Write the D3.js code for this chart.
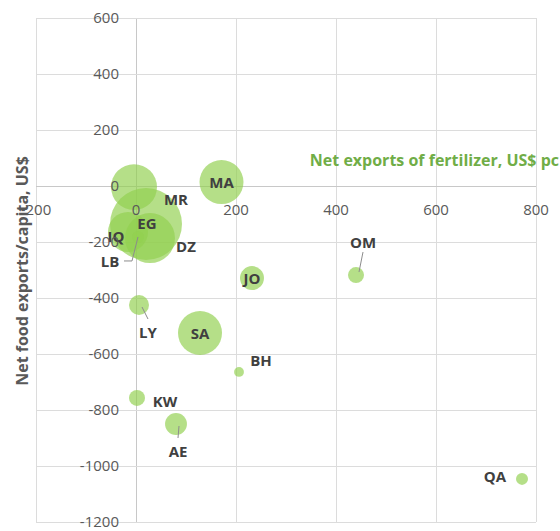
<!DOCTYPE html>
<html>
  <head>
    <meta charset="utf-8">
    <style type="text/css">
      body { margin: 0; background: #fff; }
      text { font-family: "Open Sans", sans-serif; }
    </style>
  </head>
  <body>
    <div id="chart"></div>
    <script src="https://cdn.jsdelivr.net/npm/d3@7"></script>
    <script>
      // country codes, net fertilizer exports (US$ pc), net food exports (US$/capita), bubble size
      const countries = ["MR", "EG", "DZ", "IQ", "LB", "MA", "SA", "JO", "LY", "OM", "BH", "KW", "AE", "QA"];
      const fertilizer = [-4, 20, 28, -16, 4, 171, 128, 232, 6, 440, 206, 2, 80, 772];
      const food = [-4, -136, -186, -164, -182, 14, -525, -329, -425, -318, -664, -757, -850, -1046];
      const sizes = [132, 324, 156, 100, 9, 121, 121, 36, 25, 16, 6, 16, 30, 9];

      const xTicks = [-200, 0, 200, 400, 600, 800];
      const yTicks = [600, 400, 200, 0, -200, -400, -600, -800, -1000, -1200];

      // where each data label sits relative to its bubble (pixels)
      const labelOffset = {
        MR: [42, 13], EG: [1, 0], DZ: [36, 9], IQ: [-12, 5], LB: [-28, 25],
        MA: [0, 1], SA: [0, 1], JO: [0, 1], LY: [9, 28], OM: [7, -32],
        BH: [22, -11], KW: [28, 4], AE: [2, 28], QA: [-27, -2]
      };
      const leaders = ["LB", "LY", "OM", "AE"];

      const width = 560, height = 531;
      const x = d3.scaleLinear().domain([-200, 800]).range([36, 536]);
      const y = d3.scaleLinear().domain([-1200, 600]).range([522, 18]);
      const r = d3.scaleSqrt().domain([0, d3.max(sizes)]).range([0, 36]);

      const data = countries.map((c, i) => ({
        code: c, fx: fertilizer[i], fy: food[i], size: sizes[i]
      }));

      const svg = d3.select("#chart").append("svg")
        .attr("width", width)
        .attr("height", height);

      // gridlines
      svg.append("g").selectAll("line").data(xTicks).enter().append("line")
        .attr("x1", (d) => x(d)).attr("x2", (d) => x(d))
        .attr("y1", y(600)).attr("y2", y(-1200))
        .attr("stroke", (d) => d === 0 ? "#c8c8c8" : "#dcdcdc")
        .attr("stroke-width", 1)
        .attr("shape-rendering", "crispEdges");
      svg.append("g").selectAll("line").data(yTicks).enter().append("line")
        .attr("y1", (d) => y(d)).attr("y2", (d) => y(d))
        .attr("x1", x(-200)).attr("x2", x(800))
        .attr("stroke", (d) => d === 0 ? "#c8c8c8" : "#dcdcdc")
        .attr("stroke-width", 1)
        .attr("shape-rendering", "crispEdges");

      // bubbles
      svg.append("g").selectAll("circle")
        .data(data.slice().sort((a, b) => b.size - a.size))
        .enter().append("circle")
        .attr("cx", (d) => x(d.fx))
        .attr("cy", (d) => y(d.fy))
        .attr("r", (d) => r(d.size))
        .attr("fill", "#92d050")
        .attr("fill-opacity", 0.68);

      // leader lines
      svg.append("g").selectAll("polyline")
        .data(data.filter((d) => leaders.includes(d.code)))
        .enter().append("polyline")
        .attr("fill", "none")
        .attr("stroke", "#8c8c8c")
        .attr("stroke-width", 1)
        .attr("points", (d) => {
          const cx = x(d.fx), cy = y(d.fy);
          const [dx, dy] = labelOffset[d.code];
          if (d.code === "LB") {
            return [[cx, cy], [cx - 6, cy + dy - 1], [cx + dx + 14, cy + dy - 1]].join(" ");
          }
          const ty = dy > 0 ? cy + dy - 14 : cy + dy + 9;
          const sy = dy > 0 ? cy + 2 : cy - 3;
          return [[cx + (dx > 0 ? 3 : 1), sy], [cx + dx, ty]].join(" ");
        });

      // data labels
      svg.append("g").selectAll("text").data(data).enter().append("text")
        .attr("x", (d) => x(d.fx) + labelOffset[d.code][0])
        .attr("y", (d) => y(d.fy) + labelOffset[d.code][1])
        .attr("dy", "0.35em")
        .attr("text-anchor", "middle")
        .attr("font-size", 15)
        .attr("font-weight", "bold")
        .attr("fill", "#404040")
        .text((d) => d.code);

      // tick labels
      svg.append("g").selectAll("text").data(xTicks).enter().append("text")
        .attr("x", (d) => x(d))
        .attr("y", y(0) + 29)
        .attr("text-anchor", "middle")
        .attr("font-size", 15)
        .attr("fill", "#595959")
        .text((d) => d);
      svg.append("g").selectAll("text").data(yTicks).enter().append("text")
        .attr("x", x(0) - 17)
        .attr("y", (d) => y(d))
        .attr("dy", "0.35em")
        .attr("text-anchor", "end")
        .attr("font-size", 15)
        .attr("fill", "#595959")
        .text((d) => d);

      // axis titles
      svg.append("text")
        .attr("transform", "translate(28,271) rotate(-90)")
        .attr("text-anchor", "middle")
        .attr("font-size", 16)
        .attr("font-weight", "bold")
        .attr("fill", "#595959")
        .text("Net food exports/capita, US$");
      svg.append("text")
        .attr("x", 559)
        .attr("y", 166)
        .attr("text-anchor", "end")
        .attr("font-size", 16)
        .attr("font-weight", "bold")
        .attr("fill", "#70ad47")
        .text("Net exports of fertilizer, US$ pc");
    </script>
  </body>
</html>
